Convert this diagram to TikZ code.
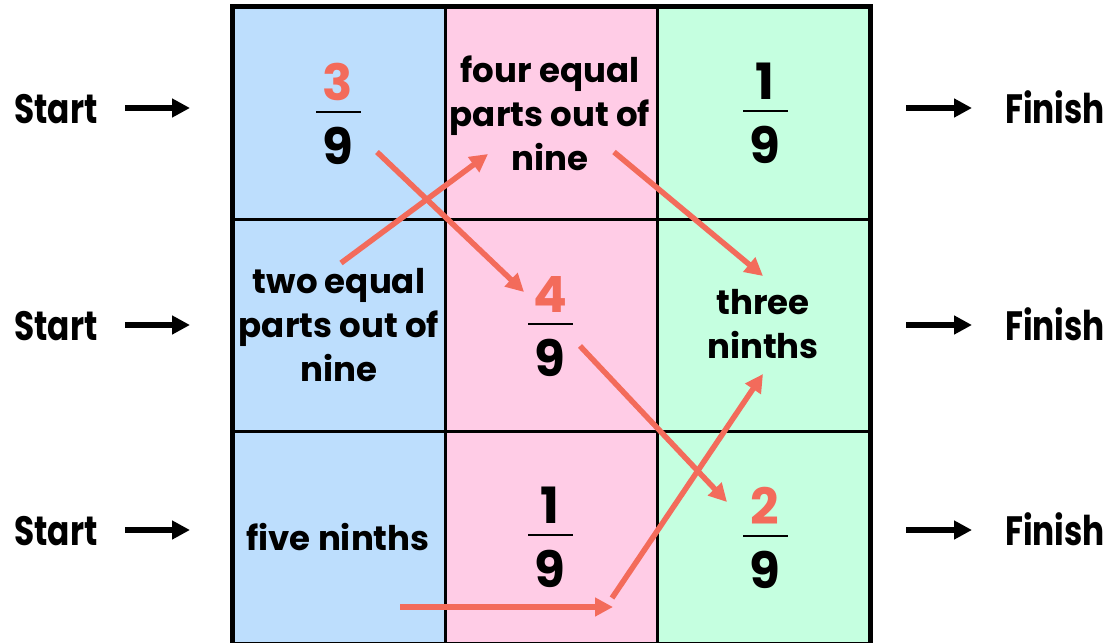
\documentclass[tikz,border=0pt]{standalone}
\usepackage{fontspec}
\setmainfont{Poppins}
\newfontfamily\sidefont{Poppins}[FakeStretch=0.8]
\usetikzlibrary{arrows.meta,calc}
\definecolor{cblue}{RGB}{189,222,253}
\definecolor{cpink}{RGB}{255,204,230}
\definecolor{cgreen}{RGB}{197,255,224}
\definecolor{ared}{RGB}{243,107,91}
\tikzset{
  cell/.style={draw=black,line width=3pt,minimum width=212pt,minimum height=212pt,inner sep=0pt,anchor=north west},
  word/.style={font=\fontsize{34}{44}\selectfont\bfseries,align=center,inner sep=0pt},
  side/.style={font=\sidefont\fontsize{41}{50}\selectfont\bfseries,inner sep=0pt,anchor=base},
  digit/.style={font=\fontsize{50}{60}\selectfont\bfseries,inner sep=0pt,anchor=base},
  fbar/.style={fill=black,minimum width=45pt,minimum height=2.5pt,inner sep=0pt},
  redarrow/.style={draw=ared,line width=5.5pt,-{Triangle[length=18pt,width=18pt]}},
  blackarrow/.style={draw=black,line width=6pt,-{Triangle[length=18pt,width=18pt]}},
}
\newcommand\fracnode[5]{%
  \node[fbar] (#1) at (#2,#3) {};
  \node[digit,text=#5] (#1n) at (#2,#3-12) {#4};
  \node[digit] (#1d) at (#2,#3+52) {9};
}
\begin{document}
\begin{tikzpicture}[x=1pt,y=-1pt]
\useasboundingbox (0,0) rectangle (1118,642);
% cells
\node[cell,fill=cblue]  (c11) at (232,6) {};
\node[cell,fill=cpink]  (c12) at (444,6) {};
\node[cell,fill=cgreen] (c13) at (656,6) {};
\node[cell,fill=cblue]  (c21) at (232,218) {};
\node[cell,fill=cpink]  (c22) at (444,218) {};
\node[cell,fill=cgreen] (c23) at (656,218) {};
\node[cell,fill=cblue]  (c31) at (232,430) {};
\node[cell,fill=cpink]  (c32) at (444,430) {};
\node[cell,fill=cgreen] (c33) at (656,430) {};
\draw[line width=4.5pt] (c11.north west) rectangle (c33.south east);
% contents
\fracnode{f11}{338}{112}{3}{ared}
\node[word] (t12) at (550,113) {four equal\\parts out of\\nine};
\fracnode{f13}{765}{111}{1}{black}
\node[word] (t21) at (339,325) {two equal\\parts out of\\nine};
\fracnode{f22}{550}{324}{4}{ared}
\node[word] (t23) at (763,324) {three\\ninths};
\node[word] (t31) at (338,537) {five ninths};
\fracnode{f32}{550}{535}{1}{black}
\fracnode{f33}{765}{536}{2}{ared}
% start / finish
\node[side] (s1) at (56,123) {Start};
\node[side] (s2) at (56,340) {Start};
\node[side] (s3) at (56,545) {Start};
\node[side] (e1) at (1055,123) {Finish};
\node[side] (e2) at (1055,340) {Finish};
\node[side] (e3) at (1055,545) {Finish};
\foreach \r/\y in {1/108,2/325,3/530}{
  \coordinate (sa\r) at (125,\y);
  \coordinate (sb\r) at (190,\y);
  \coordinate (ea\r) at (906,\y);
  \coordinate (eb\r) at (972,\y);
  \draw[blackarrow] (sa\r) -- (sb\r);
  \draw[blackarrow] (ea\r) -- (eb\r);
}
% red connectors
\coordinate (a1s) at (377,152); \coordinate (a1e) at (524,292);
\coordinate (a2s) at (341,263); \coordinate (a2e) at (488,154);
\coordinate (a3s) at (614,152); \coordinate (a3e) at (763,276);
\coordinate (a4s) at (580,346); \coordinate (a4e) at (727,502);
\coordinate (a5s) at (400,607); \coordinate (a5e) at (613,607);
\coordinate (a6s) at (612,598); \coordinate (a6e) at (763,374);
\draw[redarrow] (a1s) -- (a1e);
\draw[redarrow] (a2s) -- (a2e);
\draw[redarrow] (a3s) -- (a3e);
\draw[redarrow] (a4s) -- (a4e);
\draw[redarrow] (a5s) -- (a5e);
\draw[redarrow] (a6s) -- (a6e);
\end{tikzpicture}
\end{document}
